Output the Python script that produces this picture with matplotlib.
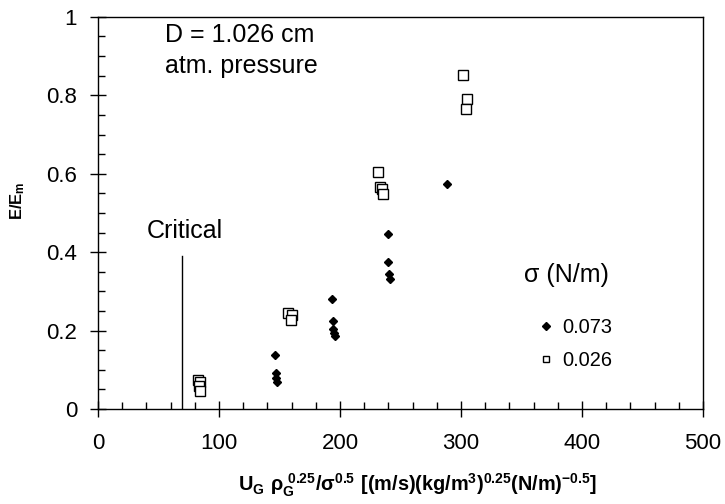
import numpy as np
import matplotlib
matplotlib.use('Agg')
import matplotlib.pyplot as plt
from matplotlib.ticker import MultipleLocator
from matplotlib.lines import Line2D

plt.rcParams['font.family'] = ['Liberation Sans', 'DejaVu Sans']
plt.rcParams['mathtext.fontset'] = 'custom'
plt.rcParams['mathtext.rm'] = 'Liberation Sans'
plt.rcParams['mathtext.bf'] = 'Liberation Sans:bold'

# sigma = 0.073 N/m (filled diamonds)
x_073 = [146, 147, 147.5, 148, 193.5, 194, 194.5, 195, 195.5, 239.5, 240, 240.5, 241, 288]
y_073 = [0.137, 0.092, 0.079, 0.069, 0.280, 0.225, 0.205, 0.195, 0.186, 0.447, 0.375, 0.345, 0.332, 0.575]

# sigma = 0.026 N/m (open squares)
x_026 = [82.5, 84.5, 83.5, 84, 157, 160, 159.5, 231.5, 233, 235, 235.5, 302, 305, 304]
y_026 = [0.075, 0.068, 0.058, 0.047, 0.245, 0.240, 0.227, 0.605, 0.567, 0.560, 0.548, 0.852, 0.790, 0.765]

critical_x = 69
critical_top = 0.39

fig = plt.figure(figsize=(7.25, 5.04), dpi=100)
ax = fig.add_axes([0.1352, 0.1885, 0.8345, 0.778])

ax.plot(x_073, y_073, 'D', color='black', markersize=4.5)
ax.plot(x_026, y_026, 's', markerfacecolor='white', markeredgecolor='black',
        markeredgewidth=1.0, markersize=7)
ax.plot([critical_x, critical_x], [0, critical_top], color='black', lw=1)

ax.set_xlim(0, 500)
ax.set_ylim(0, 1)
ax.xaxis.set_major_locator(MultipleLocator(100))
ax.xaxis.set_minor_locator(MultipleLocator(20))
ax.yaxis.set_minor_locator(MultipleLocator(0.05))
ax.set_yticks([0, 0.2, 0.4, 0.6, 0.8, 1.0])
ax.set_yticklabels(['0', '0.2', '0.4', '0.6', '0.8', '1'])
ax.tick_params(which='major', direction='inout', length=12, width=1, labelsize=16)
ax.tick_params(axis='x', which='major', pad=11)
ax.tick_params(axis='y', which='major', pad=9)
ax.tick_params(which='minor', direction='in', length=5, width=1)
for s in ax.spines.values():
    s.set_linewidth(1)

ax.set_xlabel(r'$\mathbf{U_G\ \rho_G^{\ 0.25}/\sigma^{0.5}\ [(m/s)(kg/m^3)^{0.25}(N/m)^{-0.5}]}$',
              fontsize=14.3)
ax.xaxis.set_label_coords(0.528, -0.16)
ax.set_ylabel(r'$\mathbf{E/E_m}$', fontsize=12)
ax.yaxis.set_label_coords(-0.118, 0.53)

ax.text(0.111, 0.936, 'D = 1.026 cm', transform=ax.transAxes, fontsize=18, va='baseline')
ax.text(0.111, 0.857, 'atm. pressure', transform=ax.transAxes, fontsize=18, va='baseline')
ax.text(0.081, 0.435, 'Critical', transform=ax.transAxes, fontsize=18, va='baseline')

ax.text(0.704, 0.324, 'σ (N/m)', transform=ax.transAxes, fontsize=18, va='baseline')
h1 = Line2D([], [], ls='none', marker='D', color='black', markersize=4.5)
h2 = Line2D([], [], ls='none', marker='s', markerfacecolor='white',
            markeredgecolor='black', markeredgewidth=1.0, markersize=5)
ax.legend([h1, h2], ['0.073', '0.026'], frameon=False, fontsize=14.4,
          loc='upper left', bbox_to_anchor=(0.727, 0.232), borderpad=0,
          borderaxespad=0, handlelength=0.8, handletextpad=0.4, labelspacing=0.72)

fig.savefig('out.png', dpi=100)
